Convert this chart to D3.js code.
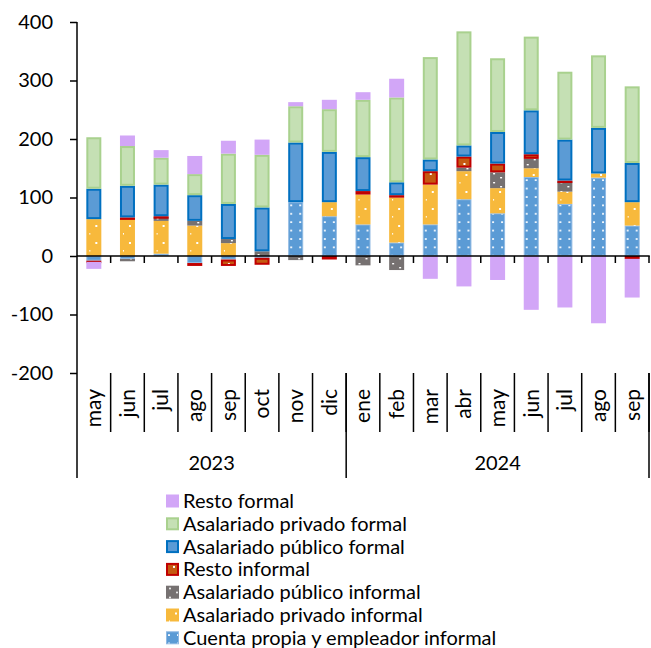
<!DOCTYPE html>
<html>
<head>
<meta charset="utf-8">
<script src="https://cdn.jsdelivr.net/npm/d3@7"></script>
<style>
  body { margin: 0; background: #fff; }
  text { font-family: Lato, "Liberation Sans", sans-serif; fill: #000; }
</style>
</head>
<body>
<script>
// categories (month, year groups)
var months = ["may", "jun", "jul", "ago", "sep", "oct", "nov", "dic",
              "ene", "feb", "mar", "abr", "may", "jun", "jul", "ago", "sep"];
var yearLabels = ["2023", "2024"];
var yearCounts = [8, 9];
var yTicks = [-200, -100, 0, 100, 200, 300, 400];

// series, in stacking order (bottom first)
var cuentaPropia = [-8, -5, 4, -12, -6, -3, 92, 68, 54, 23, 54, 97, 73, 135, 89, 134, 52];
var asalPrivInf  = [63, 64, 56, 52, 22, 0, 0, 24, 51, 77, 68, 48, 43, 15, 21, 7, 40];
var asalPubInf   = [0, -4, 7, 8, 7, 8, -7, 0, -16, -24, 0, 6, 27, 16, 18, 0, 0];
var restoInf     = [-2, 2, 1, -5, -11, -12, 0, -6, 6, 4, 23, 19, 15, 8, 1, 0, -5];
var asalPubFor   = [52, 54, 54, 44, 60, 75, 102, 86, 58, 22, 20, 19, 54, 75, 70, 78, 67];
var asalPrivFor  = [88, 68, 46, 36, 86, 90, 62, 73, 98, 145, 175, 195, 126, 126, 116, 124, 131];
var restoFor     = [-12, 18, 13, 31, 22, 26, 7, 16, 13, 32, -39, -52, -41, -92, -88, -115, -66];

var series = [
  {key: "cp",  name: "Cuenta propia y empleador informal", values: cuentaPropia, fill: "url(#p-cp)",  stroke: "#8fb9e3", sw: 1},
  {key: "api", name: "Asalariado privado informal",        values: asalPrivInf,  fill: "url(#p-api)", stroke: "none", sw: 0},
  {key: "pui", name: "Asalariado público informal",        values: asalPubInf,   fill: "url(#p-pui)", stroke: "none", sw: 0},
  {key: "ri",  name: "Resto informal",                     values: restoInf,     fill: "url(#p-ri)",  stroke: "#c00000", sw: 2},
  {key: "apf", name: "Asalariado público formal",          values: asalPubFor,   fill: "#5b9bd5", stroke: "#0070c0", sw: 2},
  {key: "prf", name: "Asalariado privado formal",          values: asalPrivFor,  fill: "#c5e0b4", stroke: "#a9d18e", sw: 2},
  {key: "rf",  name: "Resto formal",                       values: restoFor,     fill: "#d2a6f7", stroke: "none", sw: 0}
];

var W = 651, H = 648;
var plotLeft = 77, plotRight = 649, plotTop = 22, plotBottom = 373, axisBottom = 478;

var svg = d3.select("body").append("svg")
  .attr("width", W)
  .attr("height", H);

// patterns (white specks like the original fills)
var defs = svg.append("defs");
function pattern(id, w, h, bg, dots) {
  var p = defs.append("pattern")
    .attr("id", id)
    .attr("patternUnits", "userSpaceOnUse")
    .attr("width", w)
    .attr("height", h);
  p.append("rect").attr("width", w).attr("height", h).attr("fill", bg);
  dots.forEach(function(d) {
    p.append("rect")
      .attr("x", d[0]).attr("y", d[1])
      .attr("width", d[2]).attr("height", d[3])
      .attr("fill", "#fff");
  });
}
pattern("p-cp", 9, 8.4, "#5b9bd5", [[2, 3, 2, 1.6]]);
pattern("p-api", 15, 17, "#f7b93c", [[9, 4, 2, 2], [3, 12, 1, 1.6]]);
pattern("p-pui", 15, 9, "#767171", [[3, 2, 2, 1.4], [10, 6, 2, 1.4]]);
pattern("p-ri", 15, 10, "#c55a11", [[7, 3, 2, 2]]);

// build table from the arrays
var table = months.map(function(m, i) {
  var row = {idx: i};
  series.forEach(function(s) { row[s.key] = s.values[i]; });
  return row;
});

var stacked = d3.stack()
  .keys(series.map(function(s) { return s.key; }))
  .order(d3.stackOrderNone)
  .offset(d3.stackOffsetDiverging)(table);

var x = d3.scaleBand()
  .domain(d3.range(months.length))
  .range([plotLeft, plotRight])
  .padding(0);

var y = d3.scaleLinear()
  .domain([-200, 400])
  .range([plotBottom, plotTop]);

var bw = 15;

// bars: one group per category so patterns line up with each bar
var groups = svg.append("g").selectAll("g")
  .data(d3.range(months.length))
  .enter()
  .append("g")
  .attr("transform", function(i) {
    return "translate(" + (x(i) + (x.bandwidth() - bw) / 2) + ",0)";
  });

groups.each(function(i) {
  var g = d3.select(this);
  stacked.forEach(function(layer, j) {
    var d = layer[i];
    if (d[1] - d[0] === 0) return;
    var s = series[j];
    var inset = s.sw / 2;
    g.append("rect")
      .attr("x", inset)
      .attr("width", bw - inset * 2)
      .attr("y", y(Math.max(d[0], d[1])) + inset)
      .attr("height", Math.max(0.5, Math.abs(y(d[0]) - y(d[1])) - inset * 2))
      .attr("fill", s.fill)
      .attr("stroke", s.stroke)
      .attr("stroke-width", s.sw);
  });
});

// y axis
var yAxis = d3.axisLeft(y)
  .tickValues(yTicks)
  .tickSize(7)
  .tickPadding(17)
  .tickFormat(function(d) { return String(d); });

var yg = svg.append("g")
  .attr("transform", "translate(" + plotLeft + ",0)")
  .call(yAxis);
yg.select(".domain").remove();
yg.selectAll(".tick line").attr("stroke", "#000").attr("stroke-width", 1.5);
yg.selectAll(".tick text")
  .style("font-size", "20px")
  .style("font-family", "Lato, sans-serif");

// axis lines
var axisLines = svg.append("g").attr("stroke", "#000").attr("stroke-width", 1.5);
axisLines.append("line")
  .attr("x1", plotLeft).attr("x2", plotLeft)
  .attr("y1", plotTop).attr("y2", axisBottom);
axisLines.append("line")
  .attr("x1", plotLeft).attr("x2", plotRight + 0.75)
  .attr("y1", y(0)).attr("y2", y(0));

// category ticks at the zero line
var bounds = d3.range(1, months.length + 1).map(function(i) {
  return i < months.length ? x(i) : plotRight;
});
axisLines.selectAll(".ct")
  .data(bounds)
  .enter()
  .append("line")
  .attr("x1", function(d) { return d; })
  .attr("x2", function(d) { return d; })
  .attr("y1", y(0))
  .attr("y2", y(0) + 7);

// month separators in the label band
axisLines.selectAll(".ms")
  .data(bounds)
  .enter()
  .append("line")
  .attr("x1", function(d) { return d; })
  .attr("x2", function(d) { return d; })
  .attr("y1", plotBottom)
  .attr("y2", 432);

// year separators
var yearEnds = [];
var acc = 0;
yearCounts.forEach(function(c) { acc += c; yearEnds.push(acc); });
axisLines.selectAll(".ys")
  .data(yearEnds)
  .enter()
  .append("line")
  .attr("x1", function(d) { return d < months.length ? x(d) : plotRight; })
  .attr("x2", function(d) { return d < months.length ? x(d) : plotRight; })
  .attr("y1", plotBottom)
  .attr("y2", axisBottom);

// month labels
svg.append("g").selectAll("text")
  .data(months)
  .enter()
  .append("text")
  .attr("transform", function(d, i) {
    return "translate(" + (x(i) + x.bandwidth() / 2) + ",389) rotate(-90)";
  })
  .attr("text-anchor", "end")
  .attr("dy", "0.35em")
  .style("font-size", "21px")
  .text(function(d) { return d; });

// year labels
svg.append("g").selectAll("text")
  .data(yearLabels)
  .enter()
  .append("text")
  .attr("x", function(d, i) {
    var s = i === 0 ? 0 : yearEnds[i - 1];
    var e = yearEnds[i];
    var x0 = x(s);
    var x1 = e < months.length ? x(e) : plotRight;
    return (x0 + x1) / 2;
  })
  .attr("y", 470)
  .attr("text-anchor", "middle")
  .style("font-size", "20px")
  .text(function(d) { return d; });

// legend (reverse order, top = last series)
var legendItems = series.slice().reverse();
var legend = svg.append("g").selectAll("g")
  .data(legendItems)
  .enter()
  .append("g")
  .attr("transform", function(d, i) {
    return "translate(166," + (494.5 + i * 22.8) + ")";
  });

legend.append("rect")
  .attr("x", function(d) { return d.sw / 2; })
  .attr("y", function(d) { return d.sw / 2; })
  .attr("width", function(d) { return 13 - d.sw; })
  .attr("height", function(d) { return 13 - d.sw; })
  .attr("fill", function(d) { return d.fill; })
  .attr("stroke", function(d) { return d.stroke; })
  .attr("stroke-width", function(d) { return d.sw; });

legend.append("text")
  .attr("x", 17)
  .attr("y", 6.5)
  .attr("dy", "0.35em")
  .style("font-size", "20px")
  .text(function(d) { return d.name; });
</script>
</body>
</html>
